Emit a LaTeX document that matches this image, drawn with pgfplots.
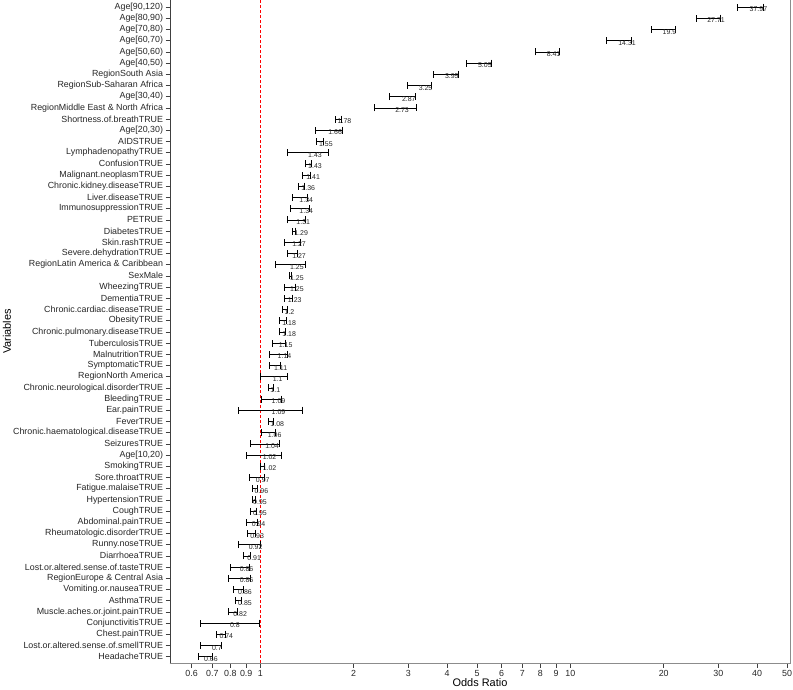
\documentclass[border=0pt]{standalone}
\usepackage{pgfplots}
\usepackage{pgfplotstable}
\pgfplotsset{compat=1.18}
\usepackage{fontspec}
\setmainfont{Liberation Sans}

% y = row from the top, est = odds ratio, lo/hi = 95% CI, lab = printed value
\pgfplotstableread{
y  est    lo     hi     lab
0  37.97  34.5   41.9   37.97
1  27.71  25.4   30.4   27.71
2  19.9   18.3   21.8   19.9
3  14.31  13.1   15.7   14.31
4  8.41   7.7    9.23   8.41
5  5.05   4.63   5.54   5.05
6  3.95   3.61   4.35   3.95
7  3.25   2.98   3.57   3.25
8  2.87   2.61   3.16   2.87
9  2.73   2.33   3.19   2.73
10 1.78   1.74   1.82   1.78
11 1.66   1.50   1.84   1.66
12 1.55   1.51   1.59   1.55
13 1.43   1.22   1.66   1.43
14 1.43   1.40   1.46   1.43
15 1.41   1.37   1.45   1.41
16 1.36   1.33   1.39   1.36
17 1.34   1.27   1.42   1.34
18 1.34   1.25   1.44   1.34
19 1.31   1.22   1.40   1.31
20 1.29   1.27   1.30   1.29
21 1.27   1.19   1.35   1.27
22 1.27   1.22   1.32   1.27
23 1.25   1.12   1.40   1.25
24 1.25   1.24   1.26   1.25
25 1.25   1.19   1.30   1.25
26 1.23   1.19   1.27   1.23
27 1.2    1.18   1.22   1.2
28 1.18   1.15   1.21   1.18
29 1.18   1.15   1.20   1.18
30 1.15   1.09   1.20   1.15
31 1.14   1.07   1.22   1.14
32 1.11   1.07   1.16   1.11
33 1.1    1.00   1.22   1.1
34 1.08   1.06   1.10   1.1
35 1.09   1.01   1.17   1.09
36 1.09   0.85   1.37   1.09
37 1.08   1.06   1.10   1.08
38 1.06   1.01   1.12   1.06
39 1.04   0.93   1.15   1.04
40 1.02   0.90   1.17   1.02
41 1.02   1.00   1.03   1.02
42 0.97   0.92   1.03   0.97
43 0.96   0.94   0.98   0.96
44 0.95   0.94   0.96   0.95
45 0.95   0.93   0.97   0.95
46 0.94   0.90   0.98   0.94
47 0.93   0.905  0.96   0.93
48 0.92   0.85   1.00   0.92
49 0.91   0.88   0.93   0.91
50 0.86   0.80   0.92   0.86
51 0.86   0.79   0.93   0.86
52 0.85   0.82   0.88   0.86
53 0.85   0.83   0.87   0.85
54 0.82   0.79   0.84   0.82
55 0.8    0.64   0.99   0.8
56 0.74   0.72   0.77   0.74
57 0.7    0.64   0.75   0.7
58 0.66   0.63   0.70   0.66
}\ordata

\begin{document}
\begin{tikzpicture}
\begin{axis}[
    scale only axis,
    width=620bp, height=663bp,
    xmode=log,
    xmin=0.511, xmax=51.1,
    y dir=reverse,
    ymin=-0.625, ymax=58.57,
    axis x line*=bottom,
    axis y line*=left,
    axis line style={black!75, line width=0.6pt},
    tick style={black!75, line width=0.6pt},
    tick align=outside,
    major tick length=4.5bp,
    xminorticks=false, yminorticks=false,
    /pgf/number format/assume math mode=true,
    xtick={0.6,0.7,0.8,0.9,1,2,3,4,5,6,7,8,9,10,20,30,40,50},
    xticklabels={0.6,0.7,0.8,0.9,1,2,3,4,5,6,7,8,9,10,20,30,40,50},
    ytick={0,...,58},
    yticklabels={
      {Age[90,120)},{Age[80,90)},{Age[70,80)},{Age[60,70)},{Age[50,60)},{Age[40,50)},
      RegionSouth Asia,RegionSub-Saharan Africa,{Age[30,40)},RegionMiddle East \& North Africa,
      Shortness.of.breathTRUE,{Age[20,30)},AIDSTRUE,LymphadenopathyTRUE,ConfusionTRUE,
      Malignant.neoplasmTRUE,Chronic.kidney.diseaseTRUE,Liver.diseaseTRUE,ImmunosuppressionTRUE,
      PETRUE,DiabetesTRUE,Skin.rashTRUE,Severe.dehydrationTRUE,RegionLatin America \& Caribbean,
      SexMale,WheezingTRUE,DementiaTRUE,Chronic.cardiac.diseaseTRUE,ObesityTRUE,
      Chronic.pulmonary.diseaseTRUE,TuberculosisTRUE,MalnutritionTRUE,SymptomaticTRUE,
      RegionNorth America,Chronic.neurological.disorderTRUE,BleedingTRUE,Ear.painTRUE,FeverTRUE,
      Chronic.haematological.diseaseTRUE,SeizuresTRUE,{Age[10,20)},SmokingTRUE,Sore.throatTRUE,
      Fatigue.malaiseTRUE,HypertensionTRUE,CoughTRUE,Abdominal.painTRUE,Rheumatologic.disorderTRUE,
      Runny.noseTRUE,DiarrhoeaTRUE,Lost.or.altered.sense.of.tasteTRUE,RegionEurope \& Central Asia,
      Vomiting.or.nauseaTRUE,AsthmaTRUE,Muscle.aches.or.joint.painTRUE,ConjunctivitisTRUE,
      Chest.painTRUE,Lost.or.altered.sense.of.smellTRUE,HeadacheTRUE},
    tick label style={font=\fontsize{8.9}{10}\selectfont, text=black!85},
    xticklabel style={yshift=1bp},
    yticklabel style={xshift=1bp},
    xlabel={Odds Ratio},
    ylabel={Variables},
    label style={font=\fontsize{11}{13}\selectfont},
    xlabel style={at={(axis description cs:0.5,0)}, anchor=center, yshift=-20bp},
    ylabel style={at={(axis description cs:-0.2629,0.5)}, anchor=center},
    clip=false,
]
\addplot[red, line width=0.7pt, dash pattern=on 3bp off 2bp]
    coordinates {(1,-0.625) (1,58.57)};
\addplot[draw=none, mark=none,
    error bars/.cd, x dir=both, x explicit,
      error mark=|,
      error mark options={black, mark size=3.5bp, line width=0.6pt},
      error bar style={black, line width=0.6pt},
    ]
    table[x=est, y=y,
          x error plus expr=\thisrow{hi}-\thisrow{est},
          x error minus expr=\thisrow{est}-\thisrow{lo}] {\ordata};
\addplot[draw=none, mark=none,
    point meta=explicit symbolic,
    nodes near coords,
    every node near coord/.append style={anchor=north west, inner sep=0pt,
      font=\fontsize{7}{8}\selectfont, text=black!85, xshift=-0.5bp, yshift=0.3bp},
    ]
    table[x=est, y=y, meta=lab] {\ordata};
\draw[black!45, line width=0.6pt] (rel axis cs:0,0) -- (rel axis cs:1,0) -- (rel axis cs:1,1);
\end{axis}
\pgfresetboundingbox
\path (-170bp,-27bp) rectangle (623bp,663bp);
\end{tikzpicture}
\end{document}
